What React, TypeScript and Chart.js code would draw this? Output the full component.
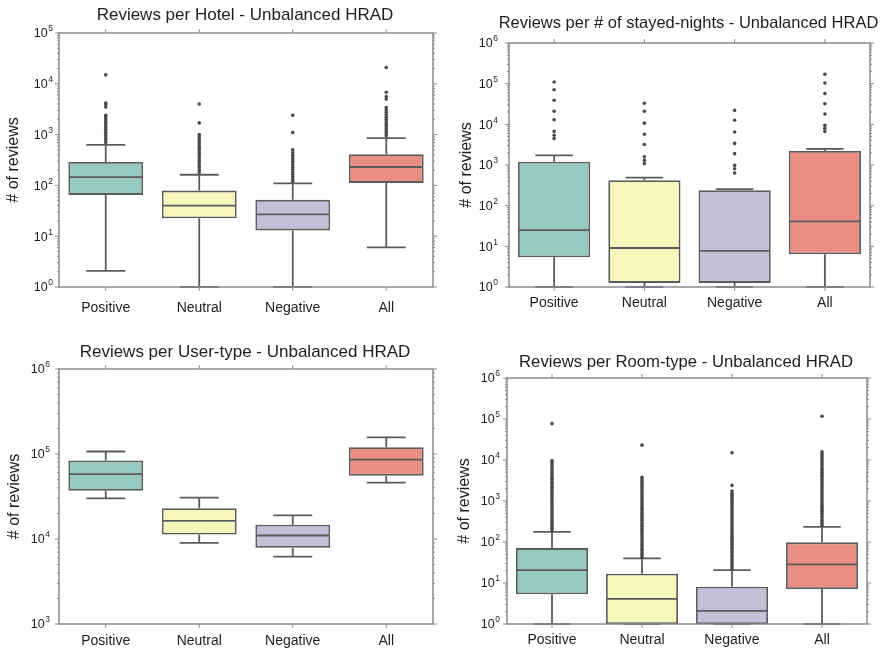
import React, { useEffect, useRef } from "react";
import { Chart, registerables } from "chart.js";

Chart.register(...registerables);

// ---------------- data ----------------
const CATEGORIES = ["Positive", "Neutral", "Negative", "All"];
const Y_AXIS_LABEL = "# of reviews";

// Reviews per Hotel
const HOTEL_TITLE = "Reviews per Hotel - Unbalanced HRAD";
const HOTEL_WHISKER_LOW = [2.07, 1, 1, 6];
const HOTEL_Q1 = [65, 22.5, 13, 112];
const HOTEL_MEDIAN = [145, 40, 27, 230];
const HOTEL_Q3 = [290, 79, 52, 410];
const HOTEL_WHISKER_HIGH = [630, 162, 110, 850];
const HOTEL_OUTLIERS_POSITIVE = [700, 780, 860, 950, 1050, 1150, 1270, 1400, 1550, 1700, 1850, 2050, 2250, 2400, 3500, 3900, 4200, 15000];
const HOTEL_OUTLIERS_NEUTRAL = [180, 200, 225, 250, 280, 310, 345, 385, 430, 480, 530, 590, 660, 730, 810, 900, 1000, 1700, 4000];
const HOTEL_OUTLIERS_NEGATIVE = [120, 133, 148, 165, 183, 205, 228, 255, 285, 315, 350, 390, 440, 500, 1100, 2400];
const HOTEL_OUTLIERS_ALL = [950, 1050, 1170, 1300, 1450, 1600, 1780, 1980, 2200, 2450, 2750, 3050, 3400, 5000, 5600, 6800, 21000];

// Reviews per # of stayed-nights
const NIGHTS_TITLE = "Reviews per # of stayed-nights - Unbalanced HRAD";
const NIGHTS_WHISKER_LOW = [1, 1, 1, 1];
const NIGHTS_Q1 = [5.4, 1.26, 1.26, 6.4];
const NIGHTS_MEDIAN = [25, 9.1, 7.7, 41];
const NIGHTS_Q3 = [1200, 420, 240, 2200];
const NIGHTS_WHISKER_HIGH = [1720, 490, 255, 2500];
const NIGHTS_OUTLIERS_POSITIVE = [4500, 5400, 6700, 13000, 21000, 39000, 71000, 110000];
const NIGHTS_OUTLIERS_NEUTRAL = [1080, 1300, 1600, 3200, 5700, 10700, 21000, 33000];
const NIGHTS_OUTLIERS_NEGATIVE = [635, 810, 980, 1900, 3400, 6500, 12600, 22000];
const NIGHTS_OUTLIERS_ALL = [6700, 8000, 9500, 18000, 32000, 57000, 104000, 170000];

// Reviews per User-type
const USER_TITLE = "Reviews per User-type - Unbalanced HRAD";
const USER_WHISKER_LOW = [30000, 9000, 6200, 46000];
const USER_Q1 = [37000, 11300, 7900, 55600];
const USER_MEDIAN = [58000, 16300, 11000, 86000];
const USER_Q3 = [84000, 23000, 14700, 120000];
const USER_WHISKER_HIGH = [107000, 30600, 19000, 157000];

// Reviews per Room-type
const ROOM_TITLE = "Reviews per Room-type - Unbalanced HRAD";
const ROOM_WHISKER_LOW = [1, 1, 1, 1];
const ROOM_Q1 = [5.3, 1, 1, 7.1];
const ROOM_MEDIAN = [20.6, 4.1, 2.1, 28.5];
const ROOM_Q3 = [71, 16.8, 8.1, 98];
const ROOM_WHISKER_HIGH = [177, 40, 20.7, 234];
const ROOM_OUTLIERS_POSITIVE = [190, 215, 240, 270, 300, 340, 380, 430, 480, 540, 600, 680, 760, 850, 960, 1080, 1200, 1350, 1520, 1700, 1900, 2150, 2400, 2700, 3000, 3400, 3800, 4300, 4800, 5400, 6000, 6800, 7600, 8500, 9500, 77000];
const ROOM_OUTLIERS_NEUTRAL = [42, 47, 53, 60, 67, 75, 84, 95, 106, 120, 134, 150, 170, 190, 212, 240, 268, 300, 340, 380, 425, 475, 535, 600, 670, 750, 845, 950, 1060, 1190, 1340, 1500, 1680, 1890, 2120, 2380, 2670, 3000, 3360, 3800, 23000];
const ROOM_OUTLIERS_NEGATIVE = [22, 25, 28, 31, 35, 39, 44, 49, 55, 62, 70, 78, 88, 98, 110, 124, 139, 156, 175, 196, 220, 247, 277, 310, 348, 390, 438, 490, 550, 620, 695, 780, 875, 980, 1100, 1230, 1380, 1550, 1750, 2400, 15000];
const ROOM_OUTLIERS_ALL = [250, 280, 315, 350, 395, 445, 500, 560, 630, 700, 790, 890, 1000, 1120, 1250, 1400, 1580, 1780, 2000, 2240, 2500, 2800, 3150, 3550, 4000, 4450, 5000, 5600, 6300, 7100, 7950, 8900, 10000, 11200, 12600, 14100, 15800, 117000];

// ---------------- styles ----------------
const BOX_COLORS = ["#96cac1", "#f6f6bd", "#c3c0d8", "#ea8e83"];
const LINE_COLOR = "#5c5c5c";
const FRAME_COLOR = "#8a8a8a";
const TEXT_COLOR = "#1e1e1e";
const OUTLIER_COLOR = "#4a4a4a";
const FONT = "'Liberation Sans', Arial, Helvetica, sans-serif";
const CW = 442;
const CH = 325;

type Panel = {
  title: string;
  yMin: number;
  yMax: number;
  wLow: number[];
  q1: number[];
  med: number[];
  q3: number[];
  wHigh: number[];
  outliers: number[][];
  left: number;
  top: number;
  area: { l: number; t: number; r: number; b: number };
  titleY: number;
  titleSize: number;
  yTitleX: number;
  xLabelPad: number;
  labelGap: number;
};

const PANELS: Panel[] = [
  {
    title: HOTEL_TITLE, yMin: 1, yMax: 1e5,
    wLow: HOTEL_WHISKER_LOW, q1: HOTEL_Q1, med: HOTEL_MEDIAN, q3: HOTEL_Q3, wHigh: HOTEL_WHISKER_HIGH,
    outliers: [HOTEL_OUTLIERS_POSITIVE, HOTEL_OUTLIERS_NEUTRAL, HOTEL_OUTLIERS_NEGATIVE, HOTEL_OUTLIERS_ALL],
    left: 0, top: 0, area: { l: 59, t: 33, r: 433, b: 287 }, titleY: 15.5, titleSize: 17, yTitleX: 14, xLabelPad: 12.5, labelGap: 6,
  },
  {
    title: NIGHTS_TITLE, yMin: 1, yMax: 1e6,
    wLow: NIGHTS_WHISKER_LOW, q1: NIGHTS_Q1, med: NIGHTS_MEDIAN, q3: NIGHTS_Q3, wHigh: NIGHTS_WHISKER_HIGH,
    outliers: [NIGHTS_OUTLIERS_POSITIVE, NIGHTS_OUTLIERS_NEUTRAL, NIGHTS_OUTLIERS_NEGATIVE, NIGHTS_OUTLIERS_ALL],
    left: 442, top: 0, area: { l: 67, t: 43, r: 428, b: 287 }, titleY: 23.5, titleSize: 16.5, yTitleX: 25, xLabelPad: 7.5, labelGap: 11,
  },
  {
    title: USER_TITLE, yMin: 1e3, yMax: 1e6,
    wLow: USER_WHISKER_LOW, q1: USER_Q1, med: USER_MEDIAN, q3: USER_Q3, wHigh: USER_WHISKER_HIGH,
    outliers: [[], [], [], []],
    left: 0, top: 325, area: { l: 59, t: 44, r: 433, b: 299 }, titleY: 27, titleSize: 17, yTitleX: 15, xLabelPad: 8.5, labelGap: 9,
  },
  {
    title: ROOM_TITLE, yMin: 1, yMax: 1e6,
    wLow: ROOM_WHISKER_LOW, q1: ROOM_Q1, med: ROOM_MEDIAN, q3: ROOM_Q3, wHigh: ROOM_WHISKER_HIGH,
    outliers: [ROOM_OUTLIERS_POSITIVE, ROOM_OUTLIERS_NEUTRAL, ROOM_OUTLIERS_NEGATIVE, ROOM_OUTLIERS_ALL],
    left: 442, top: 325, area: { l: 65, t: 53, r: 425, b: 299 }, titleY: 37, titleSize: 16.7, yTitleX: 23, xLabelPad: 8, labelGap: 7,
  },
];

function makeDecorPlugin(p: Panel) {
  return {
    id: "boxDecor",
    beforeDatasetsDraw(chart: any) {
      const { ctx } = chart;
      const x = chart.scales.x;
      const y = chart.scales.y;
      const meta = chart.getDatasetMeta(0);
      ctx.save();
      ctx.strokeStyle = LINE_COLOR;
      ctx.lineWidth = 1.8;
      p.q1.forEach((_, i) => {
        const bar = meta.data[i];
        const cx = x.getPixelForValue(i);
        const half = bar.width * 0.26;
        const yLo = y.getPixelForValue(p.wLow[i]);
        const yQ1 = y.getPixelForValue(p.q1[i]);
        const yQ3 = y.getPixelForValue(p.q3[i]);
        const yHi = y.getPixelForValue(p.wHigh[i]);
        ctx.beginPath();
        ctx.moveTo(cx, yQ1);
        ctx.lineTo(cx, yLo);
        ctx.moveTo(cx, yQ3);
        ctx.lineTo(cx, yHi);
        ctx.moveTo(cx - half, yLo);
        ctx.lineTo(cx + half, yLo);
        ctx.moveTo(cx - half, yHi);
        ctx.lineTo(cx + half, yHi);
        ctx.stroke();
      });
      ctx.restore();
    },
    afterDatasetsDraw(chart: any) {
      const { ctx, chartArea } = chart;
      const x = chart.scales.x;
      const y = chart.scales.y;
      const meta = chart.getDatasetMeta(0);
      ctx.save();
      // medians
      ctx.strokeStyle = LINE_COLOR;
      ctx.lineWidth = 1.8;
      p.med.forEach((m, i) => {
        const bar = meta.data[i];
        const cx = x.getPixelForValue(i);
        const ym = y.getPixelForValue(m);
        ctx.beginPath();
        ctx.moveTo(cx - bar.width / 2 + 1, ym);
        ctx.lineTo(cx + bar.width / 2 - 1, ym);
        ctx.stroke();
      });
      // frame
      const { left, right, top, bottom } = chartArea;
      ctx.strokeStyle = FRAME_COLOR;
      ctx.lineWidth = 1.5;
      ctx.strokeRect(left, top, right - left, bottom - top);
      // ticks
      ctx.lineWidth = 1;
      const e0 = Math.round(Math.log10(p.yMin));
      const e1 = Math.round(Math.log10(p.yMax));
      ctx.beginPath();
      for (let e = e0; e <= e1; e++) {
        const yy = y.getPixelForValue(Math.pow(10, e));
        ctx.moveTo(left, yy);
        ctx.lineTo(left - 4, yy);
        ctx.moveTo(right, yy);
        ctx.lineTo(right + 4, yy);
        if (e < e1) {
          for (let k = 2; k <= 9; k++) {
            const ym = y.getPixelForValue(k * Math.pow(10, e));
            ctx.moveTo(left, ym);
            ctx.lineTo(left - 2, ym);
            ctx.moveTo(right, ym);
            ctx.lineTo(right + 2, ym);
          }
        }
      }
      CATEGORIES.forEach((_, i) => {
        const cx = x.getPixelForValue(i);
        ctx.moveTo(cx, top);
        ctx.lineTo(cx, top - 4);
        ctx.moveTo(cx, bottom);
        ctx.lineTo(cx, bottom + 4);
      });
      ctx.stroke();
      // y tick labels 10^n
      ctx.fillStyle = TEXT_COLOR;
      ctx.textBaseline = "middle";
      ctx.textAlign = "left";
      for (let e = e0; e <= e1; e++) {
        const yy = y.getPixelForValue(Math.pow(10, e));
        const base = "10";
        const exp = String(e);
        ctx.font = `12.5px ${FONT}`;
        const bw = ctx.measureText(base).width;
        ctx.font = `8.5px ${FONT}`;
        const ew = ctx.measureText(exp).width;
        const x0 = left - p.labelGap - ew - bw - 0.5;
        ctx.font = `12.5px ${FONT}`;
        ctx.fillText(base, x0, yy + 1);
        ctx.font = `8.5px ${FONT}`;
        ctx.fillText(exp, x0 + bw + 0.5, yy - 4);
      }
      // panel title, centred over the plot area
      ctx.font = `${p.titleSize}px ${FONT}`;
      ctx.textAlign = "center";
      ctx.textBaseline = "middle";
      ctx.fillText(p.title, (left + right) / 2 - 1, p.titleY);
      ctx.restore();
    },
  };
}

function buildConfig(p: Panel): any {
  const ylh = 16 * 1.2;
  const outlierPoints: { x: string; y: number }[] = [];
  p.outliers.forEach((arr, i) => arr.forEach((v) => outlierPoints.push({ x: CATEGORIES[i], y: v })));
  return {
    type: "bar",
    data: {
      labels: CATEGORIES,
      datasets: [
        {
          type: "bar",
          data: p.q1.map((v, i) => [v, p.q3[i]]),
          backgroundColor: BOX_COLORS,
          borderColor: LINE_COLOR,
          borderWidth: 1.8,
          borderSkipped: false,
          barPercentage: 0.8,
          categoryPercentage: 1,
          order: 2,
        },
        {
          type: "line",
          data: outlierPoints,
          showLine: false,
          pointRadius: 1.8,
          pointBackgroundColor: OUTLIER_COLOR,
          pointBorderWidth: 0,
          pointHoverRadius: 1.8,
          order: 1,
        },
      ],
    },
    options: {
      responsive: false,
      animation: false,
      devicePixelRatio: 1,
      events: [],
      layout: { padding: { left: 0, right: CW - p.area.r, top: p.area.t, bottom: 0 } },
      plugins: {
        legend: { display: false },
        tooltip: { enabled: false },
        title: { display: false },
      },
      scales: {
        x: {
          type: "category",
          offset: true,
          grid: { display: false, drawTicks: false },
          border: { display: false },
          ticks: { color: TEXT_COLOR, font: { family: FONT, size: 14 }, padding: p.xLabelPad, maxRotation: 0, autoSkip: false },
          afterFit: (s: any) => {
            s.height = CH - p.area.b;
          },
        },
        y: {
          type: "logarithmic",
          min: p.yMin,
          max: p.yMax,
          grid: { display: false, drawTicks: false },
          border: { display: false },
          ticks: { display: false },
          title: {
            display: true,
            text: Y_AXIS_LABEL,
            color: TEXT_COLOR,
            font: { family: FONT, size: 16, lineHeight: 1.2 },
            padding: { top: p.yTitleX - ylh / 2, bottom: 0 },
          },
          afterFit: (s: any) => {
            s.width = p.area.l;
          },
        },
      },
    },
    plugins: [makeDecorPlugin(p)],
  };
}

function PanelChart({ p }: { p: Panel }) {
  const ref = useRef<HTMLCanvasElement>(null);
  useEffect(() => {
    if (!ref.current) return;
    const chart = new Chart(ref.current, buildConfig(p));
    return () => chart.destroy();
  }, [p]);
  return (
    <canvas
      ref={ref}
      width={CW}
      height={CH}
      style={{ position: "absolute", left: p.left, top: p.top, width: CW, height: CH }}
    />
  );
}

export default function App() {
  return (
    <div style={{ position: "fixed", left: 0, top: 0, width: 884, height: 650, background: "#ffffff", overflow: "hidden" }}>
      {PANELS.map((p, i) => (
        <PanelChart key={i} p={p} />
      ))}
    </div>
  );
}
